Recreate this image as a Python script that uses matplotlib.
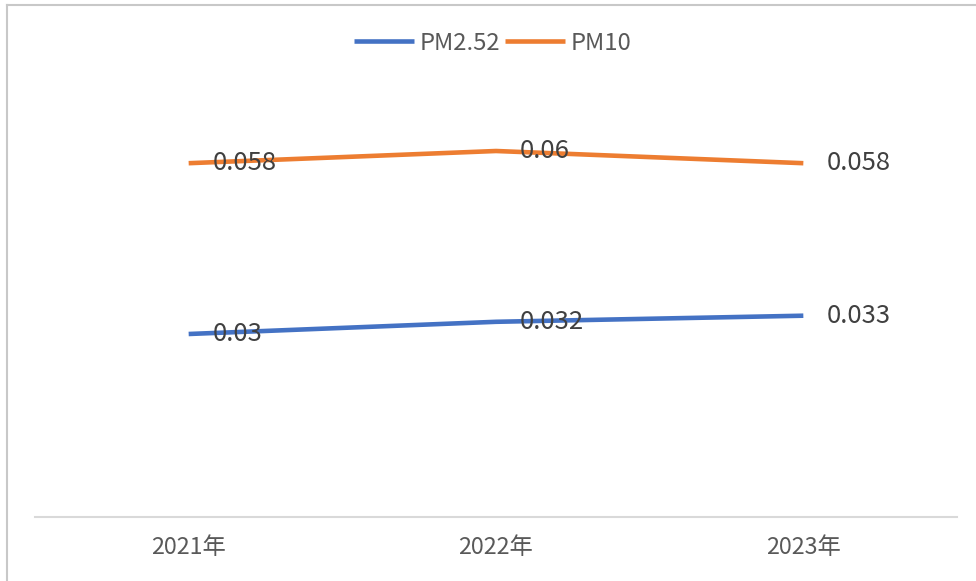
import matplotlib
matplotlib.use("Agg")
import matplotlib.pyplot as plt
from matplotlib.lines import Line2D

plt.rcParams['font.family'] = ['Noto Sans CJK SC', 'DejaVu Sans']

categories = ["2021年", "2022年", "2023年"]
pm25 = [0.030, 0.032, 0.033]
pm10 = [0.058, 0.060, 0.058]
series_names = ["PM2.52", "PM10"]
colors = ["#4472C4", "#ED7D31"]

W, H = 976, 581
fig = plt.figure(figsize=(W / 100, H / 100), dpi=100)
ax = fig.add_axes([35 / W, (H - 517) / H, (957 - 35) / W, (517 - 90) / H])

x = list(range(len(categories)))
for vals, col, name in zip([pm25, pm10], colors, series_names):
    ax.plot(x, vals, color=col, lw=3.3, solid_capstyle='butt', label=name)
    for xi, v in zip(x, vals):
        ax.annotate(f"{v:g}", (xi, v), xytext=(17, 0), textcoords='offset points',
                    ha='left', va='center', fontsize=18.5, color='#404040')

ax.set_xlim(-0.5, 2.5)
ax.set_ylim(0, 0.07)
ax.set_xticks(x)
ax.set_xticklabels(categories, fontsize=16.8, color='#595959')
ax.tick_params(axis='x', length=0, pad=14)
ax.set_yticks([])
for s in ['top', 'right', 'left']:
    ax.spines[s].set_visible(False)
ax.spines['bottom'].set_color('#D9D9D9')
ax.spines['bottom'].set_linewidth(1.5)

leg = fig.legend(loc='center', bbox_to_anchor=(493 / W, (H - 43) / H), ncol=2, frameon=False,
                 fontsize=17.2, handlelength=2.5, handletextpad=0.25, columnspacing=0.2,
                 labelcolor='#595959')

# outer frame lines (top and left)
fig.add_artist(Line2D([7 / W, 1.0], [(H - 5) / H, (H - 5) / H], transform=fig.transFigure,
                      color='#C8C8C8', lw=1.5))
fig.add_artist(Line2D([7 / W, 7 / W], [0, (H - 5) / H], transform=fig.transFigure,
                      color='#C8C8C8', lw=1.5))

fig.savefig("out.png", dpi=100)
